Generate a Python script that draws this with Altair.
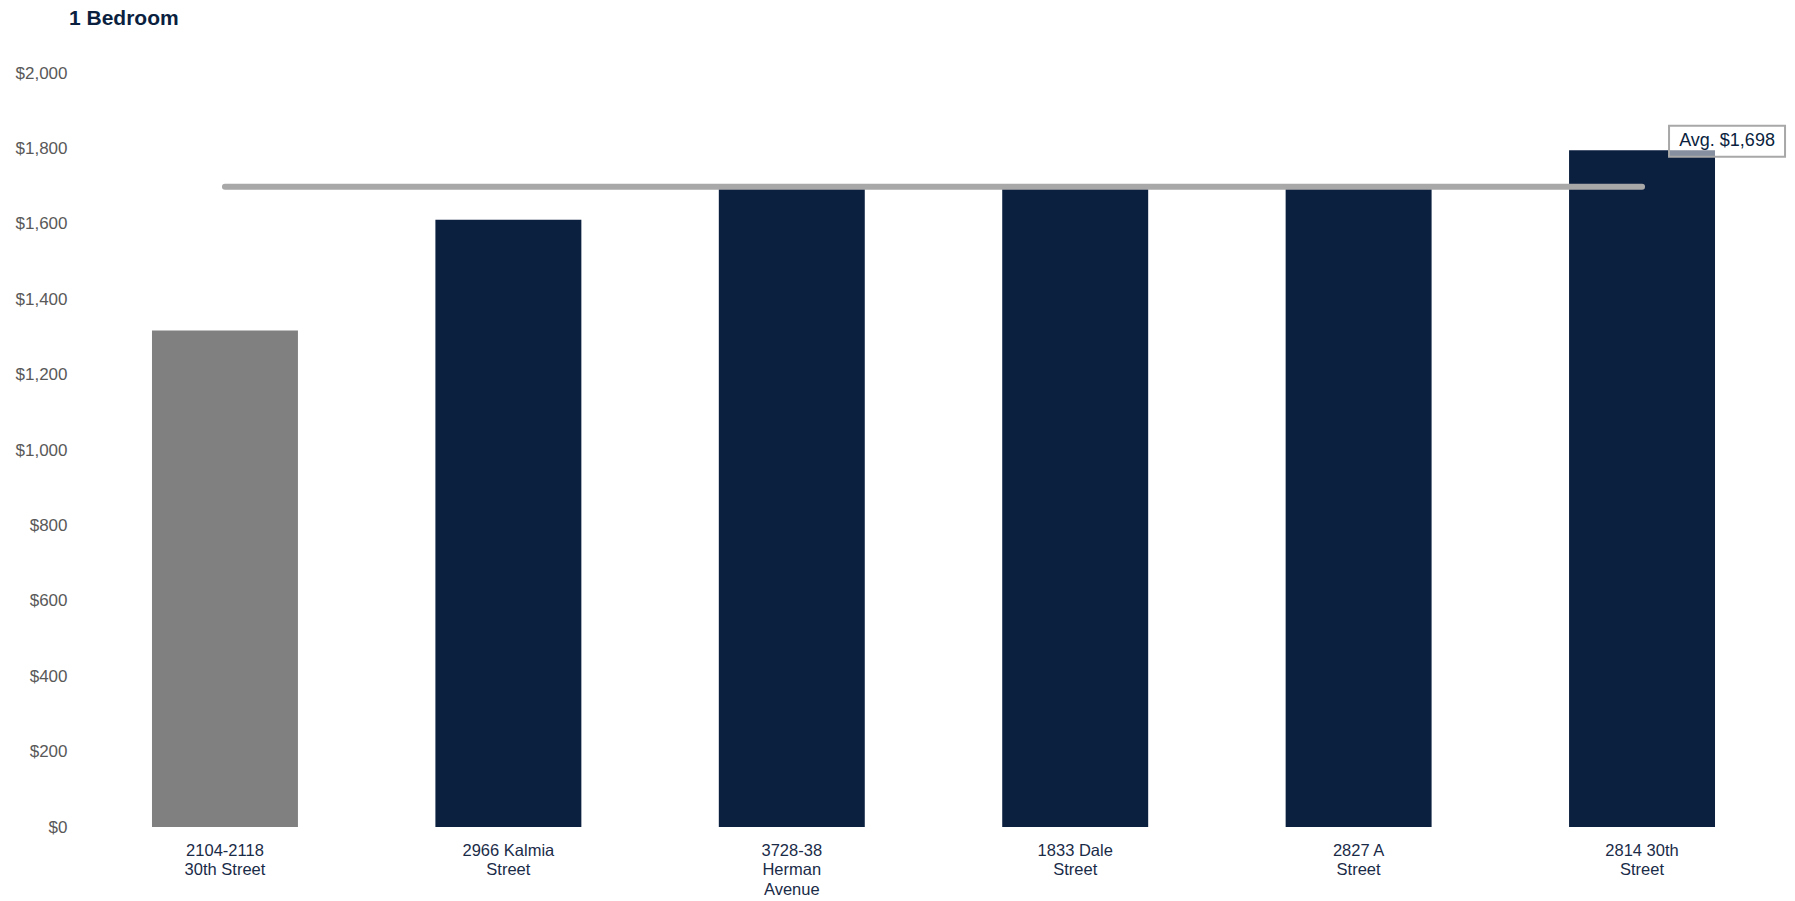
import altair as alt
import pandas as pd

# ---- data ----
properties = [
    "2104-2118\n30th Street",
    "2966 Kalmia\nStreet",
    "3728-38\nHerman\nAvenue",
    "1833 Dale\nStreet",
    "2827 A\nStreet",
    "2814 30th\nStreet",
]
rents = [1317, 1611, 1695, 1695, 1695, 1795]
is_subject = [True, False, False, False, False, False]
avg_rent = 1698
y_ticks = [0, 200, 400, 600, 800, 1000, 1200, 1400, 1600, 1800, 2000]
title_text = "1 Bedroom"

NAVY = "#0b1f3f"
GRAY_BAR = "#808080"
AVG_GRAY = "#a8a8a8"
FONT = "Liberation Sans"

bars_df = pd.DataFrame({
    "property": properties,
    "rent": rents,
    "kind": ["subject" if s else "comp" for s in is_subject],
})
avg_df = pd.DataFrame({
    "start": [properties[0]],
    "end": [properties[-1]],
    "avg": [avg_rent],
    "label": [f"Avg. ${avg_rent:,}"],
})

x_scale = alt.Scale(domain=properties, paddingInner=0.485, paddingOuter=0.254)
y_scale = alt.Scale(domain=[0, 2000], nice=False, zero=True)

bars = alt.Chart(bars_df).mark_bar().encode(
    x=alt.X("property:N", scale=x_scale, sort=properties,
            axis=alt.Axis(title=None, labelAngle=0, ticks=False, domain=False,
                          labelExpr="split(datum.label, '\\n')",
                          labelFont=FONT, labelFontSize=16.5, labelColor="#1a2b48",
                          labelLineHeight=19.5, labelPadding=15, labelBaseline="top")),
    y=alt.Y("rent:Q", scale=y_scale,
            axis=alt.Axis(title=None, values=y_ticks, format="$,.0f", grid=False,
                          ticks=False, domain=False, labelFont=FONT, labelFontSize=17,
                          labelColor="#595959", labelPadding=13)),
    color=alt.Color("kind:N", scale=alt.Scale(domain=["subject", "comp"],
                                              range=[GRAY_BAR, NAVY]), legend=None),
)

avg_line = alt.Chart(avg_df).mark_rule(
    color=AVG_GRAY, strokeWidth=6, strokeCap="round"
).encode(
    x=alt.X("start:N", scale=x_scale, sort=properties),
    x2="end:N",
    y=alt.Y("avg:Q", scale=y_scale),
)

box = alt.Chart(avg_df).mark_point(
    shape="M-1,-0.267H1V0.267H-1Z", size=13456, filled=True, fill="white",
    fillOpacity=0.5, stroke=AVG_GRAY, strokeWidth=2, opacity=1,
    xOffset=85, yOffset=-45.5,
).encode(
    x=alt.X("end:N", scale=x_scale, sort=properties),
    y=alt.Y("avg:Q", scale=y_scale),
)

label = alt.Chart(avg_df).mark_text(
    font=FONT, fontSize=18, color=NAVY, align="center", baseline="middle",
    dx=85, dy=-45.5,
).encode(
    x=alt.X("end:N", scale=x_scale, sort=properties),
    y=alt.Y("avg:Q", scale=y_scale),
    text="label:N",
)

chart = alt.layer(bars, avg_line, box, label).properties(
    width=1707,
    height=754,
    background="white",
    padding={"left": 80, "top": 73, "right": 8, "bottom": 74},
    autosize=alt.AutoSizeParams(type="none"),
    title=alt.TitleParams(title_text, anchor="start", frame="group", font=FONT,
                          fontSize=21, fontWeight="bold", color=NAVY, dx=-11, dy=-31),
).configure_view(strokeWidth=0, stroke="transparent")

chart.save("out.html", embed_options={"renderer": "svg", "actions": False})
